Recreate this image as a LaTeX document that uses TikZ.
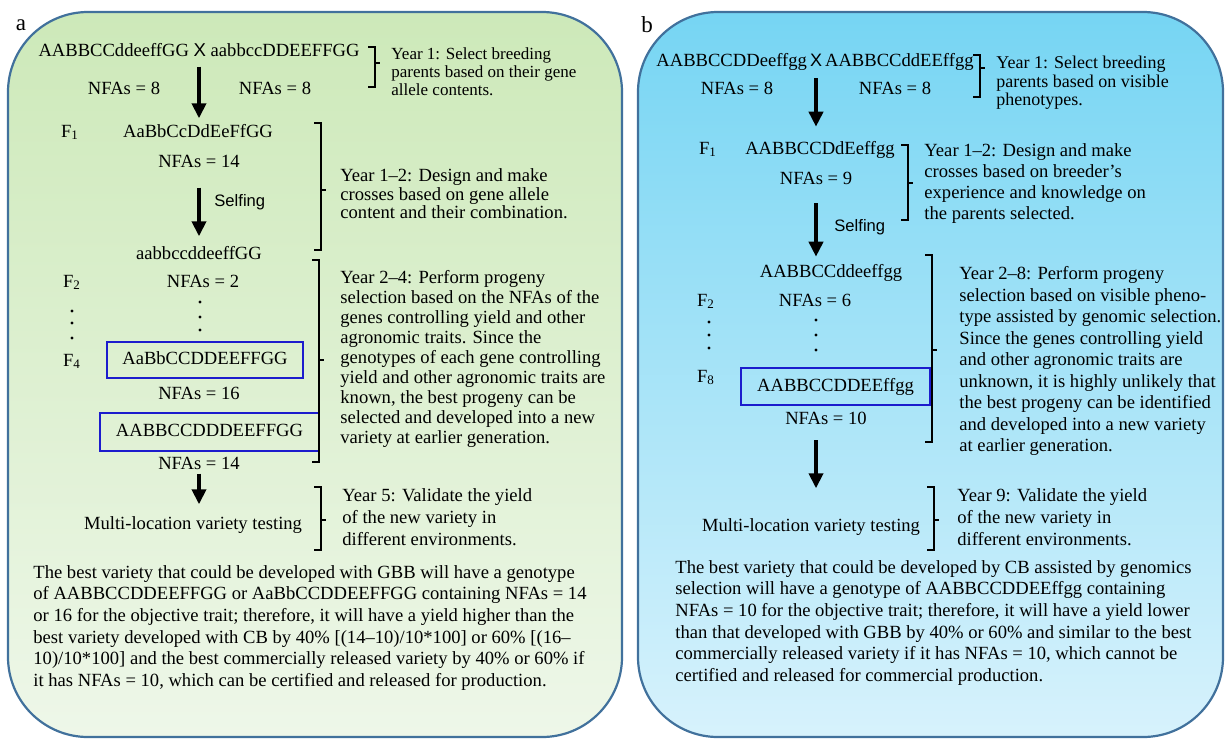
\documentclass[tikz,border=0pt]{standalone}
\usepackage{fontspec}
\setmainfont{Liberation Serif}
\setsansfont{Liberation Sans}
\usetikzlibrary{arrows.meta}

\definecolor{greentop}{RGB}{205,233,185}
\definecolor{greenbot}{RGB}{238,247,233}
\definecolor{cyantop}{RGB}{118,213,243}
\definecolor{cyanbot}{RGB}{215,242,252}
\definecolor{rim}{RGB}{65,113,156}
\definecolor{boxblue}{RGB}{28,28,205}

% year bracket: x, top, bottom, nub
\newcommand{\yrbrk}[4]{%
  \draw[brk] (#1-7,#2) -- (#1,#2) -- (#1,#3) -- (#1-7,#3);
  \draw[brk] (#1,#4) -- (#1+5,#4);}

\begin{document}
\begin{tikzpicture}[x=0.5pt,y=-0.5pt,
  txt/.style={inner sep=0pt, font=\fontsize{9.3}{10.3}\selectfont},
  gen/.style={txt, text height=6.4pt, text depth=1.9pt},
  blk/.style={txt, align=left, anchor=north west},
  yrone/.style={blk, font=\fontsize{8.5}{9}\selectfont},
  para/.style={blk, font=\fontsize{9.3}{10.8}\selectfont},
  selbox/.style={gen, draw=boxblue, line width=1pt},
  bigarr/.style={line width=2pt, -{Triangle[length=7.5pt,width=7pt]}},
  brk/.style={line width=1pt},
  panel/.style={draw=rim, line width=1.1pt, rounded corners=40pt}]
\useasboundingbox (0,0) rectangle (1225,740);

\path[panel, top color=greentop, bottom color=greenbot] (8,12) rectangle (622,737);
\path[panel, top color=cyantop, bottom color=cyanbot] (638,12) rectangle (1223,737);

\node[txt, font=\fontsize{11.5}{12}\selectfont] (labA) at (21,25) {a};
\node[txt, font=\fontsize{11.5}{12}\selectfont] (labB) at (647,25) {b};

%% panel a
\node[gen] (crossA) at (199,52) {AABBCCddeeffGG {\sffamily X} aabbccDDEEFFGG};
\node[gen] (nfaA1) at (124,90) {NFAs = 8};
\node[gen] (nfaA2) at (275,90) {NFAs = 8};
\node[yrone] (yr1A) at (391,47) {Year 1: Select breeding\\parents based on their gene\\allele contents.};
\yrbrk{375}{47}{87}{63}

\node[gen] (f1labA) at (70,133) {F\textsubscript{1}};
\node[gen] (f1A) at (198,133) {AaBbCcDdEeFfGG};
\node[gen] (nfaA3) at (199,163) {NFAs = 14};
\node[txt, font=\sffamily\fontsize{8.3}{9}\selectfont, anchor=west] (selfA) at (214,202) {Selfing};
\node[blk, font=\fontsize{9.3}{9.4}\selectfont] (yr2A) at (340,168) {Year 1--2: Design and make\\crosses based on gene allele\\content and their combination.};
\yrbrk{321}{123}{250}{190}

\node[gen] (f2genoA) at (199,255) {aabbccddeeffGG};
\node[gen] (f2labA) at (72,283) {F\textsubscript{2}};
\node[gen] (nfaA4) at (203,283) {NFAs = 2};
\foreach \yy in {311,323,338} \fill (72,\yy) circle[radius=0.8pt];
\foreach \yy in {302,317,330} \fill (200,\yy) circle[radius=0.8pt];
\node[gen] (f4labA) at (72,362) {F\textsubscript{4}};
\node[selbox, minimum width=98pt, minimum height=18pt] (bestA1) at (205,360) {AaBbCCDDEEFFGG};
\node[gen] (nfaA5) at (199,395) {NFAs = 16};
\node[selbox, minimum width=109.5pt, minimum height=19pt] (bestA2) at (209.5,432) {AABBCCDDDEEFFGG};
\node[gen] (nfaA6) at (199,465) {NFAs = 14};
\node[blk, font=\fontsize{9.3}{10}\selectfont] (yr3A) at (340,270) {Year 2--4: Perform progeny\\selection based on the NFAs of the\\genes controlling yield and other\\agronomic traits. Since the\\genotypes of each gene controlling\\yield and other agronomic traits are\\known, the best progeny can be\\selected and developed into a new\\variety at earlier generation.};
\yrbrk{319}{260}{462}{360}

\node[gen] (multiA) at (193,525) {Multi-location variety testing};
\node[blk, font=\fontsize{9.3}{11}\selectfont] (yr5A) at (342,488) {Year 5: Validate the yield\\of the new variety in\\different environments.};
\yrbrk{321}{487}{550}{520}

\node[para] (sumA) at (33,565) {The best variety that could be developed with GBB will have a genotype\\of AABBCCDDEEFFGG or AaBbCCDDEEFFGG containing NFAs = 14\\or 16 for the objective trait; therefore, it will have a yield higher than the\\best variety developed with CB by 40\% [(14--10)/10*100] or 60\% [(16--\\10)/10*100] and the best commercially released variety by 40\% or 60\% if\\it has NFAs = 10, which can be certified and released for production.};

\draw[bigarr, shorten <=3pt, shorten >=3pt] (crossA.south) -- (crossA.south |- f1A.north);
\draw[bigarr, shorten <=8pt, shorten >=5pt] (nfaA3.south) -- (f2genoA.north);
\draw[bigarr, shorten >=6pt] (nfaA6.south) -- (nfaA6.south |- multiA.north);

%% panel b
\node[gen] (crossB) at (815,62) {AABBCCDDeeffgg\,{\sffamily\small X}\,AABBCCddEEffgg};
\node[gen] (nfaB1) at (737,90) {NFAs = 8};
\node[gen] (nfaB2) at (895,90) {NFAs = 8};
\node[blk, font=\fontsize{9}{9.2}\selectfont] (yr1B) at (996,56) {Year 1: Select breeding\\parents based on visible\\phenotypes.};
\yrbrk{980}{55}{97}{68}

\node[gen] (f1labB) at (708,150) {F\textsubscript{1}};
\node[gen] (f1B) at (820,150) {AABBCCDdEeffgg};
\node[gen] (nfaB3) at (816,180) {NFAs = 9};
\node[txt, font=\sffamily\fontsize{8.3}{9}\selectfont, anchor=west] (selfB) at (834,227) {Selfing};
\node[blk, font=\fontsize{9.3}{10.5}\selectfont] (yr2B) at (924,143) {Year 1--2: Design and make\\crosses based on breeder's\\experience and knowledge on\\the parents selected.};
\yrbrk{908}{145}{220}{183}

\node[gen] (f2genoB) at (831,273) {AABBCCddeeffgg};
\node[gen] (f2labB) at (706,302) {F\textsubscript{2}};
\node[gen] (nfaB4) at (815,302) {NFAs = 6};
\foreach \yy in {322,335,348} \fill (709,\yy) circle[radius=0.8pt];
\foreach \yy in {320,335,350} \fill (816,\yy) circle[radius=0.8pt];
\node[gen] (f8labB) at (706,378) {F\textsubscript{8}};
\node[selbox, minimum width=94.5pt, minimum height=18.5pt] (bestB) at (835.5,386.5) {AABBCCDDEEffgg};
\node[gen] (nfaB5) at (826,420) {NFAs = 10};
\node[blk, font=\fontsize{9.3}{10.75}\selectfont] (yr3B) at (959,266) {Year 2--8: Perform progeny\\selection based on visible pheno-\\type assisted by genomic selection.\\Since the genes controlling yield\\and other agronomic traits are\\unknown, it is highly unlikely that\\the best progeny can be identified\\and developed into a new variety\\at earlier generation.};
\yrbrk{932}{255}{442}{350}

\node[gen] (multiB) at (811,527) {Multi-location variety testing};
\node[blk, font=\fontsize{9.3}{11}\selectfont] (yr9B) at (957,488) {Year 9: Validate the yield\\of the new variety in\\different environments.};
\yrbrk{934}{487}{550}{520}

\node[para] (sumB) at (675,560) {The best variety that could be developed by CB assisted by genomics\\selection will have a genotype of AABBCCDDEEffgg containing\\NFAs = 10 for the objective trait; therefore, it will have a yield lower\\than that developed with GBB by 40\% or 60\% and similar to the best\\commercially released variety if it has NFAs = 10, which cannot be\\certified and released for commercial production.};

\draw[bigarr, shorten <=3.8pt, shorten >=7.3pt] (nfaB3.south |- crossB.south) -- (nfaB3.south |- f1B.north);
\draw[bigarr, shorten <=7.3pt, shorten >=3.8pt] (nfaB3.south) -- (nfaB3.south |- f2genoB.north);
\draw[bigarr, shorten <=5.8pt, shorten >=15pt] (nfaB3.south |- nfaB5.south) -- (nfaB3.south |- multiB.north);
\end{tikzpicture}
\end{document}
